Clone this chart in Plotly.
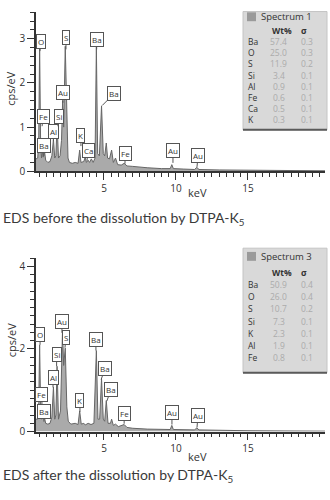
import plotly.graph_objects as go

# ---------------- data ----------------
# Spectrum 1 (before dissolution): energy (keV) / intensity (cps/eV)
top_kev = [0.28, 0.40, 0.47, 0.53, 0.60, 0.66, 0.72, 0.78, 0.85, 0.95, 1.10, 1.25, 1.38, 1.49,
           1.58, 1.66, 1.74, 1.84, 1.95, 2.05, 2.13, 2.20, 2.31, 2.42, 2.50, 2.60, 2.80, 3.00,
           3.20, 3.31, 3.40, 3.60, 3.69, 3.78, 3.90, 4.00, 4.12, 4.25, 4.38, 4.47, 4.56, 4.68,
           4.83, 4.95, 5.05, 5.16, 5.25, 5.38, 5.53, 5.65, 5.80, 5.95, 6.20, 6.40, 6.60, 7.00,
           7.50, 8.00, 9.00, 9.60, 9.71, 9.82, 10.5, 11.3, 11.44, 11.6, 13.0, 15.0, 17.0, 20.35]
top_cps = [0.28, 0.30, 0.80, 2.83, 0.60, 0.30, 0.45, 0.32, 0.50, 0.25, 0.20, 0.22, 0.35, 0.72,
           0.30, 0.35, 1.08, 0.30, 0.35, 0.70, 1.60, 1.00, 2.83, 0.90, 0.30, 0.20, 0.18, 0.20,
           0.18, 0.48, 0.20, 0.22, 0.32, 0.20, 0.25, 0.20, 0.28, 0.20, 0.30, 2.83, 0.40, 0.35,
           1.48, 0.40, 0.35, 0.64, 0.30, 0.28, 0.48, 0.20, 0.30, 0.15, 0.14, 0.18, 0.12, 0.11,
           0.09, 0.08, 0.06, 0.06, 0.15, 0.06, 0.05, 0.04, 0.09, 0.04, 0.03, 0.02, 0.02, 0.01]

# Spectrum 3 (after dissolution)
bot_kev = [0.28, 0.40, 0.47, 0.53, 0.60, 0.66, 0.72, 0.80, 0.86, 0.95, 1.10, 1.25, 1.38, 1.49,
           1.58, 1.66, 1.74, 1.84, 1.98, 2.12, 2.20, 2.31, 2.42, 2.52, 2.70, 3.00, 3.20, 3.31,
           3.42, 3.60, 3.70, 3.90, 4.10, 4.30, 4.47, 4.58, 4.70, 4.83, 4.95, 5.05, 5.16, 5.28,
           5.45, 5.53, 5.65, 5.80, 6.00, 6.40, 6.60, 7.00, 8.00, 9.00, 9.60, 9.71, 9.82, 11.3,
           11.44, 11.6, 13.0, 15.0, 20.35]
bot_cps = [0.30, 0.30, 0.70, 2.10, 0.60, 0.30, 0.50, 0.30, 0.35, 0.20, 0.18, 0.20, 0.35, 1.08,
           0.30, 0.40, 1.58, 0.30, 0.50, 2.45, 1.60, 2.02, 0.60, 0.25, 0.18, 0.20, 0.17, 0.50,
           0.18, 0.20, 0.16, 0.20, 0.17, 0.20, 1.96, 0.30, 0.30, 1.28, 0.30, 0.25, 0.75, 0.20,
           0.20, 0.30, 0.15, 0.18, 0.12, 0.17, 0.10, 0.08, 0.06, 0.05, 0.05, 0.15, 0.05, 0.04,
           0.09, 0.04, 0.03, 0.02, 0.01]

# peak labels: element, energy (keV), intensity at pointer tip (cps/eV)
top_lbl = ["O", "Fe", "Ba", "Al", "Si", "Au", "S", "K", "Ca", "Ba", "Ba", "Fe", "Au", "Au"]
top_lbl_kev = [0.55, 0.70, 0.83, 1.49, 1.80, 2.15, 2.36, 3.40, 3.82, 4.49, 4.88, 6.46, 9.79, 11.46]
top_lbl_cps = [2.72, 1.02, 0.35, 0.68, 1.02, 1.55, 2.76, 0.57, 0.24, 2.76, 1.49, 0.17, 0.19, 0.10]

bot_lbl = ["O", "Fe", "Ba", "Al", "Si", "Au", "S", "K", "Ba", "Ba", "Ba", "Fe", "Au", "Au"]
bot_lbl_kev = [0.56, 0.69, 0.83, 1.46, 1.71, 2.08, 2.29, 3.33, 4.44, 4.80, 5.20, 6.40, 9.72, 11.46]
bot_lbl_cps = [2.10, 0.64, 0.24, 1.07, 1.58, 2.39, 2.03, 0.48, 1.96, 1.26, 0.74, 0.19, 0.17, 0.10]

x_tick_values = [5, 10, 15]

# quantification tables
spec1_title = "Spectrum 1"
spec1_elem = ["Ba", "O", "S", "Si", "Al", "Fe", "Ca", "K"]
spec1_wt = [57.4, 25.0, 11.9, 3.4, 0.9, 0.6, 0.5, 0.3]
spec1_sig = [0.3, 0.3, 0.2, 0.1, 0.1, 0.1, 0.1, 0.1]

spec3_title = "Spectrum 3"
spec3_elem = ["Ba", "O", "S", "Si", "K", "Al", "Fe"]
spec3_wt = [50.9, 26.0, 10.7, 7.3, 2.3, 1.9, 0.8]
spec3_sig = [0.4, 0.4, 0.2, 0.1, 0.1, 0.1, 0.1]

caption_top = "EDS before the dissolution by DTPA-K<sub>5</sub>"
caption_bot = "EDS after the dissolution by DTPA-K<sub>5</sub>"
x_title = "keV"
y_title = "cps/eV"

# ---------------- layout helpers (pixel positions) ----------------
W, H = 330, 500
def PX(x):
    return x / W
def PY(y):
    return 1 - y / H

# label box offsets (pixels from pointer tip)
top_off = [(1, -10), (1, -10), (0, -10), (0, -10), (1, -10), (0, -10), (0, -12), (0, -11),
           (1, -10), (0, -10), (12, -12), (0, -10), (0, -12), (1, -11)]
bot_off = [(0, -10), (0, -11), (0, -10), (0, -10), (0, -12), (0, -11), (1, -10), (0, -11),
           (0, -11), (4, -11), (4, -11), (0, -10), (0, -12), (1, -12)]

AX = "#333333"
FONT = "Open Sans"

fig = go.Figure()
for xs, ys, xa, ya in [(top_kev, top_cps, "x", "y"), (bot_kev, bot_cps, "x2", "y2")]:
    fig.add_trace(go.Scatter(x=xs, y=ys, mode="lines", fill="tozeroy",
                             fillcolor="#aaaaaa", line=dict(color="#666666", width=1),
                             xaxis=xa, yaxis=ya, hoverinfo="skip", showlegend=False))

def xaxis_cfg(anchor):
    return dict(domain=[PX(36), PX(325)], range=[0.278, 20.35], anchor=anchor,
                showline=True, linecolor=AX, linewidth=1.5, showgrid=False, zeroline=False,
                ticks="outside", ticklen=7, tickwidth=1, tickcolor=AX,
                tickmode="array", tickvals=x_tick_values,
                tickfont=dict(family=FONT, size=10, color="#333"),
                minor=dict(tickmode="linear", tick0=0, dtick=0.5, ticks="outside",
                           ticklen=4, tickwidth=1, tickcolor=AX, showgrid=False))

def yaxis_cfg(anchor, dom, rng, dt):
    return dict(domain=dom, range=rng, anchor=anchor,
                showline=True, linecolor=AX, linewidth=1.5, showgrid=False, zeroline=False,
                ticks="outside", ticklen=7, tickwidth=1, tickcolor=AX,
                tickmode="linear", tick0=0, dtick=dt,
                tickfont=dict(family=FONT, size=10, color="#333"),
                minor=dict(tickmode="linear", tick0=0, dtick=0.2, ticks="outside",
                           ticklen=4, tickwidth=1, tickcolor=AX, showgrid=False))

fig.update_layout(
    width=W, height=H, margin=dict(l=0, r=0, t=0, b=0),
    paper_bgcolor="white", plot_bgcolor="white", showlegend=False,
    xaxis=xaxis_cfg("y"),
    yaxis=yaxis_cfg("x", [PY(173.7), PY(11.7)], [0, 3.616], 1),
    xaxis2=xaxis_cfg("y2"),
    yaxis2=yaxis_cfg("x2", [PY(437.7), PY(261.7)], [0, 4.2], 2),
)

ann = []
shapes = []

# peak labels
for lbls, kev, cps, offs, xr, yr in [(top_lbl, top_lbl_kev, top_lbl_cps, top_off, "x", "y"),
                                      (bot_lbl, bot_lbl_kev, bot_lbl_cps, bot_off, "x2", "y2")]:
    for t, k, c, (ox, oy) in zip(lbls, kev, cps, offs):
        ann.append(dict(x=k, y=c, xref=xr, yref=yr, text=t, showarrow=True,
                        ax=ox, ay=oy, arrowhead=0, arrowwidth=1, arrowcolor="#555",
                        standoff=0, bgcolor="white", bordercolor="#555", borderwidth=1,
                        borderpad=1, font=dict(family=FONT, size=8, color="#333")))

# axis titles
for yc, ky in [(90, 195), (345, 463)]:
    ann.append(dict(x=PX(11), y=PY(yc), xref="paper", yref="paper", text=y_title,
                    textangle=-90, showarrow=False, xanchor="center", yanchor="middle",
                    font=dict(family=FONT, size=11, color="#333")))
    ann.append(dict(x=PX(197), y=PY(ky), xref="paper", yref="paper", text=x_title,
                    showarrow=False, xanchor="center", yanchor="middle",
                    font=dict(family=FONT, size=11, color="#333")))

# captions
for txt, yc in [(caption_top, 222), (caption_bot, 482)]:
    ann.append(dict(x=PX(0.5), y=PY(yc), xref="paper", yref="paper", text=txt,
                    showarrow=False, xanchor="left", yanchor="middle",
                    font=dict(family="Lato", size=14, color="#3a3a3a")))

# quantification tables
def table(title, elems, wts, sigs, top, bottom, row0, step, hdr_y, wt_y):
    shapes.append(dict(type="rect", xref="paper", yref="paper",
                       x0=PX(243), x1=PX(327), y0=PY(bottom), y1=PY(top),
                       fillcolor="#d9d9d9", line=dict(color="#c4c4c4", width=1), layer="above"))
    shapes.append(dict(type="line", xref="paper", yref="paper",
                       x0=PX(243), x1=PX(327), y0=PY(bottom), y1=PY(bottom),
                       line=dict(color="#5a5a5a", width=2), layer="above"))
    shapes.append(dict(type="rect", xref="paper", yref="paper",
                       x0=PX(247), x1=PX(256), y0=PY(hdr_y + 4.5), y1=PY(hdr_y - 4.5),
                       fillcolor="#9a9a9a", line=dict(width=0), layer="above"))
    ann.append(dict(x=PX(259), y=PY(hdr_y), xref="paper", yref="paper", text=title,
                    showarrow=False, xanchor="left", yanchor="middle",
                    font=dict(family=FONT, size=9.5, color="#333")))
    ann.append(dict(x=PX(282), y=PY(wt_y), xref="paper", yref="paper", text="<b>Wt%</b>",
                    showarrow=False, xanchor="center", yanchor="middle",
                    font=dict(family=FONT, size=8.5, color="#333")))
    ann.append(dict(x=PX(304), y=PY(wt_y), xref="paper", yref="paper", text="<b>σ</b>",
                    showarrow=False, xanchor="center", yanchor="middle",
                    font=dict(family=FONT, size=8.5, color="#333")))
    for i, (e, w, s) in enumerate(zip(elems, wts, sigs)):
        yy = row0 + i * step
        ann.append(dict(x=PX(246), y=PY(yy), xref="paper", yref="paper", text=e,
                        showarrow=False, xanchor="left", yanchor="middle",
                        font=dict(family=FONT, size=8.5, color="#333")))
        ann.append(dict(x=PX(278.5), y=PY(yy), xref="paper", yref="paper", text=f"{w:.1f}",
                        showarrow=False, xanchor="center", yanchor="middle",
                        font=dict(family=FONT, size=8.5, color="#ababab")))
        ann.append(dict(x=PX(306.5), y=PY(yy), xref="paper", yref="paper", text=f"{s:.1f}",
                        showarrow=False, xanchor="center", yanchor="middle",
                        font=dict(family=FONT, size=8.5, color="#ababab")))

table(spec1_title, spec1_elem, spec1_wt, spec1_sig, 11.7, 131.7, 42.5, 11.2, 17, 31)
table(spec3_title, spec3_elem, spec3_wt, spec3_sig, 251.7, 378, 288.5, 12.4, 260, 276.5)

fig.update_layout(annotations=ann, shapes=shapes)
fig.write_html("out.html")
